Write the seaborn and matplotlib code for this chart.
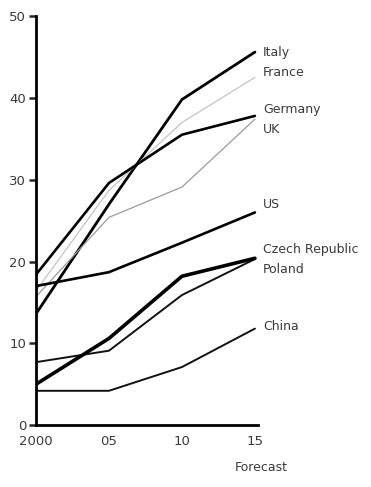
import pandas as pd
import matplotlib.pyplot as plt
import seaborn as sns

# values
years = [2000, 2005, 2010, 2015]
year_labels = ['2000', '05', '10', '15']
countries = ['Italy', 'France', 'Germany', 'UK', 'US', 'Czech Republic', 'Poland', 'China']
italy = [13.6, 27.0, 39.8, 45.6]
france = [16.4, 28.7, 37.0, 42.5]
germany = [18.4, 29.6, 35.5, 37.8]
uk = [15.7, 25.4, 29.1, 37.4]
us = [17.0, 18.7, 22.3, 26.0]
czech = [7.7, 9.1, 15.9, 20.3]
poland = [5.0, 10.6, 18.2, 20.4]
china = [4.2, 4.2, 7.1, 11.8]

series = [italy, france, germany, uk, us, czech, poland, china]
df = pd.DataFrame({
    'year': years * len(countries),
    'value': sum(series, []),
    'country': [c for c in countries for _ in years],
})

# styling
colors = {'Italy': 'black', 'France': '#c4c4c4', 'Germany': 'black', 'UK': '#9a9a9a',
          'US': 'black', 'Czech Republic': '#111111', 'Poland': 'black', 'China': '#111111'}
widths = {'Italy': 2.0, 'France': 0.9, 'Germany': 1.9, 'UK': 0.9,
          'US': 1.9, 'Czech Republic': 1.4, 'Poland': 2.6, 'China': 1.4}
label_y = [45.6, 43.1, 38.6, 36.1, 27.0, 21.5, 19.0, 12.1]

sns.set_style('ticks')
plt.rcParams['font.family'] = ['DejaVu Sans']

fig = plt.figure(figsize=(3.71, 4.87), dpi=100)
ax = fig.add_axes([0.097, 0.127, 0.598, 0.84])

for c in countries:
    sns.lineplot(data=df[df['country'] == c], x='year', y='value',
                 color=colors[c], lw=widths[c], ax=ax, legend=False)

for c, ly in zip(countries, label_y):
    ax.text(2015.55, ly, c, fontsize=9, color='#3a3a3a', va='center', ha='left',
            clip_on=False)

ax.set_xlim(2000, 2015.2)
ax.set_ylim(0, 50)
ax.set_xticks(years)
ax.set_xticklabels(year_labels)
ax.set_yticks([0, 10, 20, 30, 40, 50])
ax.tick_params(axis='y', length=5, width=1.8, direction='out', labelsize=9.5,
               labelcolor='#3a3a3a', pad=2)
ax.tick_params(axis='x', length=0, labelsize=9.5, labelcolor='#3a3a3a', pad=7)
ax.set_xlabel('')
ax.set_ylabel('')
for s in ['left', 'bottom']:
    ax.spines[s].set_linewidth(2)
    ax.spines[s].set_color('black')
sns.despine(ax=ax)

fig.text(0.705, 0.04, 'Forecast', fontsize=9, color='#3a3a3a', ha='center', va='center')

fig.savefig('out.png', dpi=100)
